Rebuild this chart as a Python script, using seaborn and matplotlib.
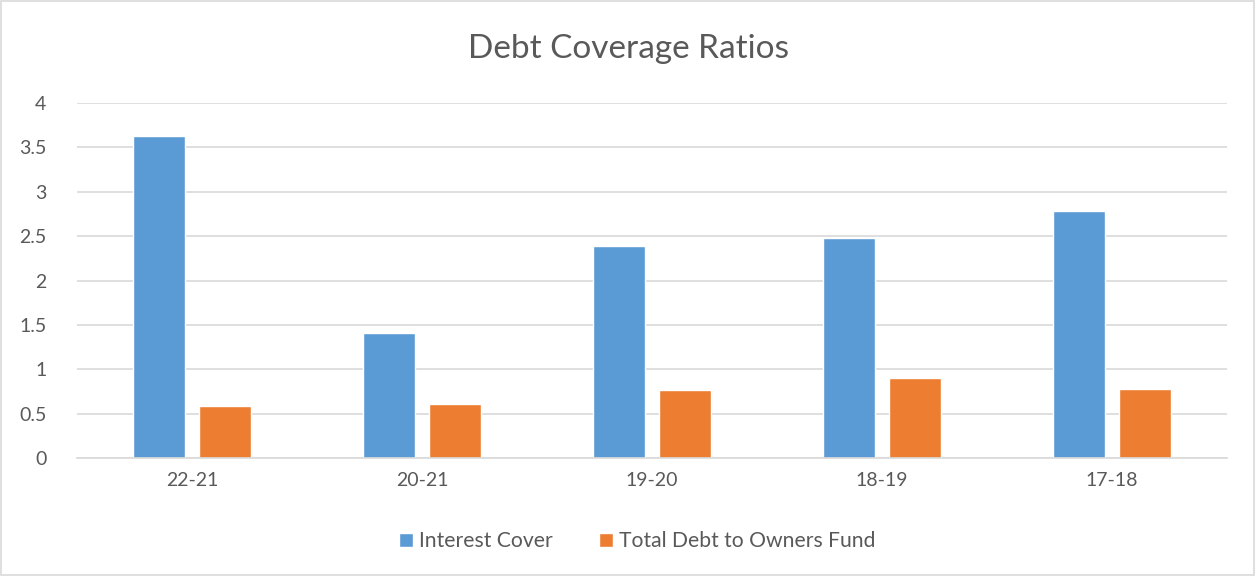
import pandas as pd
import matplotlib.pyplot as plt
import seaborn as sns
from matplotlib.patches import Rectangle

# chart values
periods = ["22-21", "20-21", "19-20", "18-19", "17-18"]
interest_cover = [3.63, 1.41, 2.39, 2.48, 2.78]
debt_to_owners = [0.58, 0.61, 0.77, 0.90, 0.78]
series_names = ["Interest Cover", "Total Debt to Owners Fund"]

# build a long dataframe for seaborn
df = pd.DataFrame({
    "Period": periods * 2,
    "Ratio": interest_cover + debt_to_owners,
    "Series": [series_names[0]] * len(periods) + [series_names[1]] * len(periods),
})

sns.set_style("white")
plt.rcParams["font.family"] = ["Lato", "DejaVu Sans"]
text_color = "#595959"
grid_color = "#d9d9d9"

fig = plt.figure(figsize=(12.57, 5.76), dpi=100)
ax = fig.add_axes([0.0613, 0.205, 0.915, 0.616])

sns.barplot(data=df, x="Period", y="Ratio", hue="Series", order=periods,
            hue_order=series_names, palette=["#5b9bd5", "#ed7d31"],
            width=0.574, gap=0.21, saturation=1, ax=ax, zorder=2)

# axes styling
ax.set_ylim(0, 4)
ax.set_yticks([0, 0.5, 1, 1.5, 2, 2.5, 3, 3.5, 4])
ax.set_yticklabels(["0", "0.5", "1", "1.5", "2", "2.5", "3", "3.5", "4"])
ax.set_xlim(-0.5, len(periods) - 0.5)
ax.grid(axis="y", color=grid_color, linewidth=1.2, zorder=0)
ax.set_axisbelow(True)
for side in ["left", "right", "top"]:
    ax.spines[side].set_visible(False)
ax.spines["bottom"].set_color(grid_color)
ax.spines["bottom"].set_linewidth(1.2)
ax.tick_params(axis="both", length=0, labelsize=14, colors=text_color)
ax.tick_params(axis="y", pad=22)
ax.tick_params(axis="x", pad=10)
ax.set_xlabel("")
ax.set_ylabel("")

# title and legend
fig.text(0.5, 0.915, "Debt Coverage Ratios", ha="center", va="center",
         fontsize=24, color=text_color)
handles, labels = ax.get_legend_handles_labels()
ax.legend_.remove()
fig.legend(handles, labels, loc="center", bbox_to_anchor=(0.507, 0.06), ncol=2,
           frameon=False, fontsize=15.2, labelcolor=text_color,
           handlelength=0.65, handleheight=0.65, handletextpad=0.3, columnspacing=2.2)

# light border around the chart
fig.patches.append(Rectangle((0.001, 0.001), 0.997, 0.997, transform=fig.transFigure,
                             fill=False, edgecolor=grid_color, linewidth=1.2))

plt.savefig("out.png", dpi=100)
plt.close()
